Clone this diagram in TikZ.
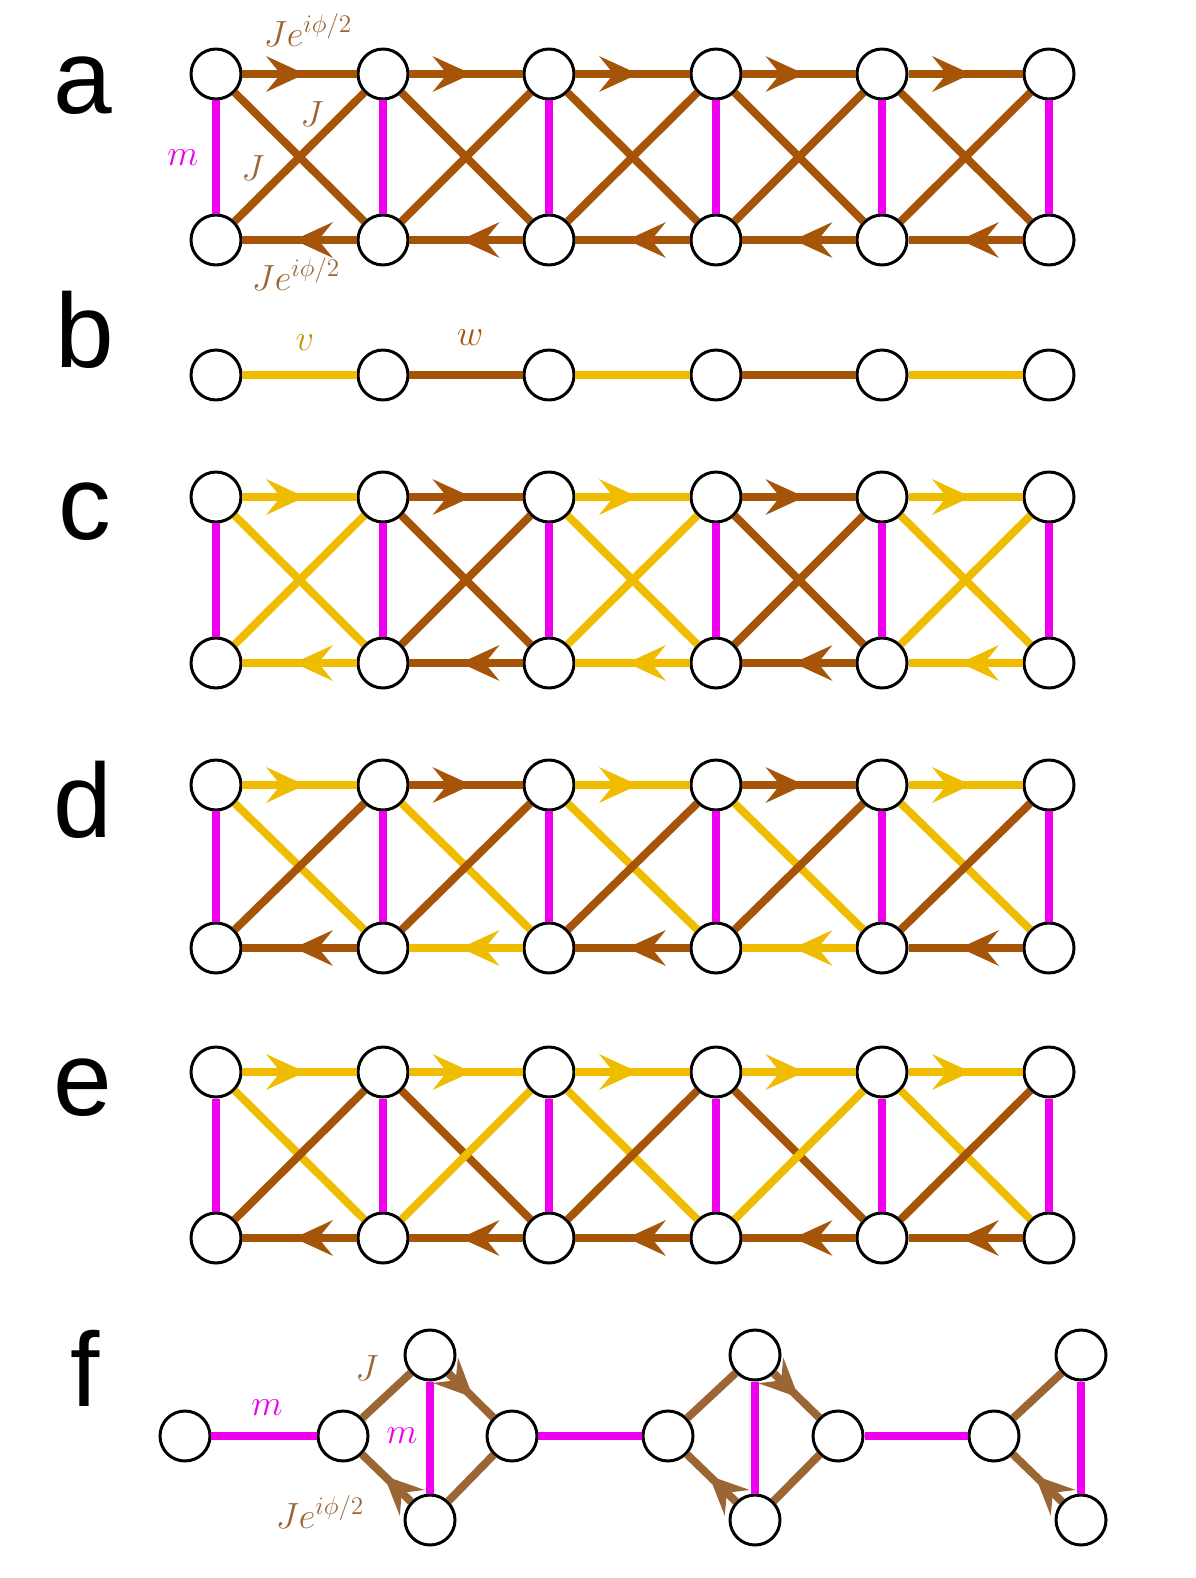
\documentclass[tikz,border=0pt]{standalone}
\usepackage{fontspec}
\newfontfamily\panelfont{Liberation Sans}
\usetikzlibrary{arrows.meta,decorations.markings}
\definecolor{hopbrown}{RGB}{166,84,8}
\definecolor{hopgold}{RGB}{240,188,0}
\definecolor{vgold}{RGB}{200,150,0}
\definecolor{hopmag}{RGB}{238,0,238}
\definecolor{fbrown}{RGB}{156,102,52}
\tikzset{
  site/.style={circle, draw, line width=1.7pt, fill=white, minimum size=1cm, inner sep=0pt},
  hop/.style={line width=4.5pt},
  arr/.style={postaction={decorate}, decoration={markings,
      mark=at position 0.55 with {\arrow[#1]{Stealth[length=22pt,width=20pt,inset=8pt]}}}},
  panel/.style={font=\fontsize{60}{60}\selectfont\panelfont},
  lbl/.style={font=\fontsize{22}{22}\selectfont}
}
\begin{document}
\begin{tikzpicture}[x=0.02cm,y=-0.02cm]
\useasboundingbox (0,0) rectangle (1196,1578);
% panel letters
\node[panel] (la) at (83,86) {a};
\node[panel] (lb) at (85,330) {b};
\node[panel] (lc) at (85,512) {c};
\node[panel] (ld) at (83,800) {d};
\node[panel] (le) at (83,1088) {e};
\node[panel] (lf) at (85,1368) {f};
% ladder sites
\foreach \p/\yt/\yb in {a/74/240, c/497/663, d/785/948, e/1072/1238}
  \foreach \i/\x in {1/216,2/383,3/549,4/716,5/882,6/1049}{
    \node[site] (\p\i t) at (\x,\yt) {};
    \node[site] (\p\i b) at (\x,\yb) {};
    \draw[hop, hopmag] (\p\i t) -- (\p\i b);
  }
% ladder bonds: top, bottom, diagonal \ and /
\foreach \p/\i/\ct/\cb/\cd/\cu in {
  a/1/hopbrown/hopbrown/hopbrown/hopbrown, a/2/hopbrown/hopbrown/hopbrown/hopbrown,
  a/3/hopbrown/hopbrown/hopbrown/hopbrown, a/4/hopbrown/hopbrown/hopbrown/hopbrown,
  a/5/hopbrown/hopbrown/hopbrown/hopbrown,
  c/1/hopgold/hopgold/hopgold/hopgold, c/2/hopbrown/hopbrown/hopbrown/hopbrown,
  c/3/hopgold/hopgold/hopgold/hopgold, c/4/hopbrown/hopbrown/hopbrown/hopbrown,
  c/5/hopgold/hopgold/hopgold/hopgold,
  d/1/hopgold/hopbrown/hopgold/hopbrown, d/2/hopbrown/hopgold/hopgold/hopbrown,
  d/3/hopgold/hopbrown/hopgold/hopbrown, d/4/hopbrown/hopgold/hopgold/hopbrown,
  d/5/hopgold/hopbrown/hopgold/hopbrown,
  e/1/hopgold/hopbrown/hopgold/hopbrown, e/2/hopgold/hopbrown/hopbrown/hopgold,
  e/3/hopgold/hopbrown/hopgold/hopbrown, e/4/hopgold/hopbrown/hopbrown/hopgold,
  e/5/hopgold/hopbrown/hopgold/hopbrown}{
  \pgfmathtruncatemacro\j{\i+1}
  \draw[hop, \cd] (\p\i t) -- (\p\j b);
  \draw[hop, \cu] (\p\i b) -- (\p\j t);
  \draw[hop, \ct, arr=\ct] (\p\i t) -- (\p\j t);
  \draw[hop, \cb, arr=\cb] (\p\j b) -- (\p\i b);
}
% panel b chain
\foreach \i/\x in {1/216,2/383,3/549,4/716,5/882,6/1049}
  \node[site] (b\i) at (\x,375) {};
\foreach \i/\j/\c in {1/2/hopgold,2/3/hopbrown,3/4/hopgold,4/5/hopbrown,5/6/hopgold}
  \draw[hop, \c] (b\i) -- (b\j);
% labels a, b
\node[lbl, text=fbrown] (lJa) at (308,30) {$Je^{i\phi/2}$};
\node[lbl, text=fbrown] (lJb) at (296,274) {$Je^{i\phi/2}$};
\node[lbl, text=fbrown] (lJc) at (312,114) {$J$};
\node[lbl, text=fbrown] (lJd) at (253,168) {$J$};
\node[lbl, text=hopmag] (lm) at (183,158) {$m$};
\node[lbl, text=vgold] (lv) at (305,343) {$v$};
\node[lbl, text=hopbrown] (lw) at (470,338) {$w$};
% panel f
\node[site] (f0) at (185,1436) {};
\foreach \k/\x in {1/343,2/668,3/994}{
  \node[site] (f\k l) at (\x,1436) {};
  \node[site] (f\k t) at (\x+87,1355) {};
  \node[site] (f\k b) at (\x+87,1520) {};
}
\node[site] (f1r) at (512,1436) {};
\node[site] (f2r) at (838,1436) {};
\draw[hop, hopmag] (f0) -- (f1l);
\draw[hop, hopmag] (f1r) -- (f2l);
\draw[hop, hopmag] (f2r) -- (f3l);
\foreach \k in {1,2,3}{
  \draw[hop, hopmag] (f\k t) -- (f\k b);
  \draw[hop, fbrown] (f\k l) -- (f\k t);
  \draw[hop, fbrown, arr=fbrown] (f\k b) -- (f\k l);
}
\foreach \k in {1,2}{
  \draw[hop, fbrown, arr=fbrown] (f\k t) -- (f\k r);
  \draw[hop, fbrown] (f\k b) -- (f\k r);
}
\node[lbl, text=hopmag] (lfm) at (267,1408) {$m$};
\node[lbl, text=hopmag] (lfn) at (402,1436) {$m$};
\node[lbl, text=fbrown] (lfJ) at (367,1368) {$J$};
\node[lbl, text=fbrown] (lfK) at (320,1512) {$Je^{i\phi/2}$};
\end{tikzpicture}
\end{document}
